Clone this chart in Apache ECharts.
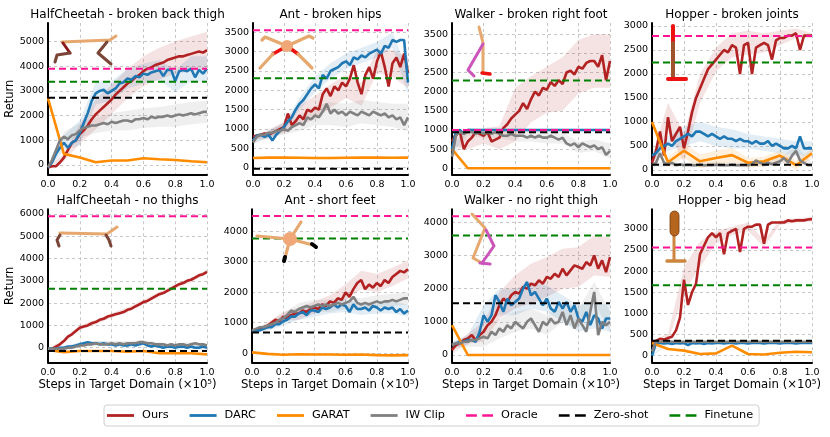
<!DOCTYPE html>
<html><head><meta charset="utf-8">
<script src="https://cdn.jsdelivr.net/npm/echarts@6/dist/echarts.min.js"></script>
<style>html,body{margin:0;padding:0;background:#fff}#c{width:830px;height:437px}</style>
</head><body><div id="c"></div>
<script>
// ---------- DATA ----------
const X41 = [0,0.025,0.05,0.075,0.1,0.125,0.15,0.175,0.2,0.225,0.25,0.275,0.3,0.325,0.35,0.375,0.4,0.425,0.45,0.475,0.5,0.525,0.55,0.575,0.6,0.625,0.65,0.675,0.7,0.725,0.75,0.775,0.8,0.825,0.85,0.875,0.9,0.925,0.95,0.975,1];
const X11 = [0,0.1,0.2,0.3,0.4,0.5,0.6,0.7,0.8,0.9,1];

const titles = ["HalfCheetah - broken back thigh","Ant - broken hips","Walker - broken right foot","Hopper - broken joints","HalfCheetah - no thighs","Ant - short feet","Walker - no right thigh","Hopper - big head"];
const legendNames = ["Ours","DARC","GARAT","IW Clip","Oracle","Zero-shot","Finetune"];
const yLabel = "Return";
const xLabel = "Steps in Target Domain (\u00d710\u2075)";

// y-axis tick steps and visible ranges per panel
const yTickStep = [1000,500,500,500,1000,1000,1000,500];
const yMin = [-385,-177,-162,-94,-655,-296,-220,-156];
const yMax = [5750,3740,3793,3062,6212,4717,4391,3462];

// constant reference levels per panel
const oracleLevels   = [3900,3550,1000,2790,5900,4500,4180,2560];
const zeroShotLevels = [2720,-30,940,110,-150,680,1560,355];
const finetuneLevels = [3370,2310,2290,2240,2650,3760,3600,1665];

// Panel 1: HalfCheetah - broken back thigh
const p1Ours  = [-100,-50,-50,100,300,600,900,1000,1250,1400,1600,1850,2050,2200,2350,2500,2650,2850,3000,3150,3300,3400,3550,3650,3800,3900,3950,4050,4100,4150,4250,4300,4350,4400,4400,4450,4500,4550,4600,4550,4650];
const p1Darc  = [-100,100,450,700,900,700,900,1000,1300,1700,2100,2600,2900,3000,3050,2900,3000,3100,3300,3350,3500,3450,3600,3550,3700,3650,3750,3800,3850,3600,3850,3850,3400,3800,3850,3800,3900,3550,3850,3700,3900];
const p1Iw    = [-100,200,600,1000,1150,1050,1200,1250,1400,1500,1550,1600,1600,1650,1700,1650,1750,1700,1750,1800,1800,1750,1850,1850,1900,1850,1950,1900,1950,1950,2000,1950,2000,2050,2000,2050,2100,2050,2100,2150,2150];
const p1Garat = [2700,450,300,110,180,180,270,230,200,150,110];
// Panel 2: Ant - broken hips
const p2Ours  = [800,830,850,880,850,900,950,1000,1050,1400,1100,1200,1350,1250,1500,1450,1550,1500,1900,2050,1850,2100,2000,2200,2100,2300,2650,2200,1900,2400,2600,2300,2750,3000,2600,2100,2700,2850,2600,2950,2450];
const p2Darc  = [700,830,850,800,850,700,850,950,1050,1200,1300,1500,1650,1750,1900,2050,2150,2050,2400,2300,2500,2550,2600,2700,2750,2650,2850,2800,2900,2850,2950,3000,3050,2950,3150,3100,3300,3250,3300,3300,2200];
const p2Iw    = [650,800,850,850,900,900,950,950,1000,950,1050,1100,1150,1100,1300,1250,1350,1300,1450,1650,1400,1500,1400,1450,1350,1450,1400,1350,1450,1400,1350,1450,1400,1350,1400,1300,1350,1250,1300,1100,1300];
const p2Garat = [250,260,260,255,250,250,255,260,260,255,260];
// Panel 3: Walker - broken right foot
const p3Ours  = [700,900,950,500,700,800,950,900,850,950,700,750,800,1050,1150,1300,1400,1500,1700,1550,1800,2000,1900,2100,2050,2250,2150,2300,2200,2500,2550,2450,2650,2600,2750,2800,2800,2650,2950,2300,2800];
const p3Darc  = [500,950,1000,900,1000,1000,1000,1000,1000,1000,1000,1000,1000,1000,1000,1000,1000,1000,1000,1000,1000,1000,1000,1000,1000,1000,1000,1000,1000,1000,1000,1000,1000,1000,1000,1000,1000,1000,1000,1000,1000];
const p3Iw    = [300,850,950,900,950,950,900,950,900,950,900,950,900,850,850,900,850,850,850,800,850,800,850,800,800,850,800,750,800,650,600,650,550,650,600,550,600,500,550,350,450];
const p3Garat = [500,0,0,0,0,0,0,0,0,0,0];
// Panel 4: Hopper - broken joints
const p4Ours  = [150,400,800,300,1100,600,750,900,450,800,1200,1500,1700,1900,2100,2200,2300,2400,2500,2450,2600,2550,2000,2600,2650,2000,2550,2600,2650,2600,2300,2700,2750,2750,2800,2800,2850,2500,2800,2800,2800];
const p4Darc  = [300,350,450,500,550,500,600,650,700,750,700,800,800,750,700,750,700,650,700,650,650,600,650,600,600,550,600,550,550,600,500,550,500,450,450,500,450,700,450,450,450];
const p4Iw    = [100,150,350,150,120,150,100,120,100,110,100,100,110,100,100,100,110,100,100,100,110,100,100,100,100,120,200,150,120,150,120,150,180,250,150,300,400,200,150,100,100];
const p4Garat = [1000,160,400,180,250,310,150,180,300,100,350];
// Panel 5: HalfCheetah - no thighs
const p5Ours  = [-100,-50,50,150,300,500,600,750,900,950,1000,1100,1150,1250,1300,1400,1450,1500,1550,1600,1700,1750,1850,1950,2050,2100,2200,2300,2400,2450,2550,2650,2750,2850,2900,3000,3050,3150,3250,3300,3400];
const p5Darc  = [-50,-50,-50,0,0,50,50,100,150,200,250,200,200,150,200,150,150,100,150,100,100,150,100,150,200,100,50,100,50,0,50,50,0,50,50,0,50,0,0,50,0];
const p5Iw    = [-50,-50,-50,-50,-50,0,0,50,100,100,150,150,200,150,150,150,200,150,200,150,200,200,200,250,250,200,200,150,150,150,100,150,100,150,150,100,150,200,150,150,100];
const p5Garat = [-100,-200,-150,-150,-150,-180,-150,-250,-250,-250,-300];
// Panel 6: Ant - short feet
const p6Ours  = [700,750,800,850,900,1000,1100,1050,1200,1150,1250,1300,1300,1400,1350,1450,1500,1450,1600,1550,1700,1650,1800,1750,2000,1850,2100,2300,2400,2100,2250,2150,2300,2200,2400,2300,2500,2600,2700,2650,2750];
const p6Darc  = [700,750,750,800,850,850,950,950,1050,1100,1200,1200,1300,1350,1250,1400,1400,1350,1500,1450,1500,1600,1500,1600,1550,1350,1600,1450,1450,1500,1400,1550,1500,1400,1500,1450,1500,1350,1450,1300,1400];
const p6Iw    = [750,800,850,850,900,950,1000,1100,1150,1250,1400,1350,1450,1500,1550,1500,1550,1600,1550,1600,1550,1600,1650,1600,1650,1700,1850,1650,1600,1650,1600,1650,1700,1650,1700,1700,1750,1700,1750,1800,1800];
const p6Garat = [30,-20,-50,-30,-40,-40,-50,-40,-60,-70,-60];
// Panel 7: Walker - no right thigh
const p7Ours  = [150,300,350,450,500,600,450,600,700,900,1000,1200,1500,1700,1600,1800,1900,1850,2050,2000,2150,2100,2250,2150,2350,2300,2450,2350,2600,2400,2550,2700,2650,2600,2800,2700,3000,2600,2850,2500,2950];
const p7Darc  = [300,350,400,400,450,450,400,700,1200,1000,1200,1800,1600,1300,1700,1500,1600,1700,2000,2200,1800,1900,1700,1500,1700,1400,1300,1600,1400,1600,1300,1500,1100,1000,1300,900,1200,1100,800,1100,1100];
const p7Iw    = [300,350,350,400,400,450,450,500,550,500,700,600,800,700,900,800,1000,900,800,1000,1100,900,700,1000,900,1100,950,1000,1300,900,1200,800,1100,900,700,1300,1900,600,1000,900,1000];
const p7Garat = [900,0,0,0,0,0,0,0,0,0,0];
// Panel 8: Hopper - big head
const p8Ours  = [300,350,400,380,420,450,600,900,1800,1200,1500,1700,2400,2600,2800,2900,2800,2900,2400,2900,2950,3000,2450,3000,3050,3050,3100,3100,2650,3100,3150,3150,3150,3150,3200,3180,3200,3200,3200,3220,3230];
const p8Darc  = [0,300,300,290,300,280,300,290,300,250,300,290,300,280,300,290,300,300,290,300,300,290,300,300,290,300,300,300,290,300,300,300,290,300,300,300,290,300,300,300,300];
const p8Iw    = [100,350,330,330,340,330,330,330,330,330,330,330,330,330,330,330,330,330,330,330,330,330,330,330,330,330,330,330,330,330,330,330,330,330,330,330,330,330,330,330,330];
const p8Garat = [300,160,120,40,55,240,40,30,70,95,80];

// shaded spread (half-width) at x = 0, 0.1, ..., 1.0
const p1OursBand = [50,150,400,600,600,600,600,650,650,700,750];
const p1DarcBand = [50,300,500,450,400,400,400,400,450,500,500];
const p1IwBand   = [50,200,300,300,350,400,400,400,450,450,450];
const p2OursBand = [50,100,150,250,300,300,300,300,300,350,400];
const p2DarcBand = [50,100,100,150,200,200,200,200,200,200,300];
const p2IwBand   = [50,100,150,200,250,300,300,300,300,300,350];
const p3OursBand = [100,200,200,300,700,600,600,700,700,700,700];
const p3DarcBand = [100,50,30,30,30,30,30,30,30,30,30];
const p3IwBand   = [100,100,100,100,150,150,150,150,150,150,200];
const p4OursBand = [100,300,300,300,250,250,250,200,150,100,50];
const p4DarcBand = [100,150,200,200,200,200,150,150,150,150,150];
const p4IwBand   = [50,50,50,50,50,50,50,50,80,100,50];
const p4GaratBand= [0,100,150,150,150,150,100,100,100,100,100];
const p5OursBand = [50,80,100,100,100,100,100,100,100,100,100];
const p5DarcBand = [50,80,100,100,100,100,100,100,100,100,100];
const p5IwBand   = [50,80,100,100,100,100,100,100,100,100,100];
const p6OursBand = [50,100,150,200,200,200,250,300,300,300,300];
const p6DarcBand = [50,100,150,200,200,200,200,200,200,200,200];
const p6IwBand   = [50,100,150,200,200,200,200,200,200,200,200];
const p7OursBand = [100,150,300,400,500,600,600,600,600,600,600];
const p7DarcBand = [100,150,300,400,400,400,400,400,400,400,400];
const p7IwBand   = [100,150,300,300,300,300,300,300,300,300,300];
const p8OursBand = [50,100,300,300,150,100,100,80,60,50,50];
const p8DarcBand = [20,20,20,20,20,20,20,20,20,20,20];
const p8IwBand   = [20,20,20,20,20,20,20,20,20,20,20];

// ---------- LAYOUT / STYLE ----------
const FONT = 'DejaVu Sans';
const COLORS = {"Ours":"#b22222","DARC":"#1f77b4","GARAT":"#ff8c00","IW Clip":"#808080","Oracle":"#ff1493","Zero-shot":"#000000","Finetune":"#008000"};
const grids = [
  {left:48, top:23, width:159, height:151.5},
  {left:253, top:23, width:155, height:151.5},
  {left:452, top:23, width:158, height:151.5},
  {left:652, top:23, width:160, height:151.5},
  {left:48, top:209.3, width:159, height:153},
  {left:252, top:209.3, width:156, height:153},
  {left:452, top:209.3, width:158, height:153},
  {left:652, top:209.3, width:160, height:153}
];

const panels = [
  {ours:p1Ours,darc:p1Darc,iw:p1Iw,garat:p1Garat,bands:[[p1OursBand,'Ours'],[p1DarcBand,'DARC'],[p1IwBand,'IW Clip']]},
  {ours:p2Ours,darc:p2Darc,iw:p2Iw,garat:p2Garat,bands:[[p2OursBand,'Ours'],[p2DarcBand,'DARC'],[p2IwBand,'IW Clip']]},
  {ours:p3Ours,darc:p3Darc,iw:p3Iw,garat:p3Garat,bands:[[p3OursBand,'Ours'],[p3DarcBand,'DARC'],[p3IwBand,'IW Clip']]},
  {ours:p4Ours,darc:p4Darc,iw:p4Iw,garat:p4Garat,bands:[[p4OursBand,'Ours'],[p4DarcBand,'DARC'],[p4IwBand,'IW Clip'],[p4GaratBand,'GARAT']]},
  {ours:p5Ours,darc:p5Darc,iw:p5Iw,garat:p5Garat,bands:[[p5OursBand,'Ours'],[p5DarcBand,'DARC'],[p5IwBand,'IW Clip']]},
  {ours:p6Ours,darc:p6Darc,iw:p6Iw,garat:p6Garat,bands:[[p6OursBand,'Ours'],[p6DarcBand,'DARC'],[p6IwBand,'IW Clip']]},
  {ours:p7Ours,darc:p7Darc,iw:p7Iw,garat:p7Garat,bands:[[p7OursBand,'Ours'],[p7DarcBand,'DARC'],[p7IwBand,'IW Clip']]},
  {ours:p8Ours,darc:p8Darc,iw:p8Iw,garat:p8Garat,bands:[[p8OursBand,'Ours'],[p8DarcBand,'DARC'],[p8IwBand,'IW Clip']]}
];

function xsFor(ys){ return ys.length === 41 ? X41 : X11; }
function pairs(ys){ const xs = xsFor(ys); return ys.map((y,i)=>[xs[i], y]); }

const xAxes = [], yAxes = [], series = [], graphics = [];
const gridLineStyle = {type:[3,3], color:'#b9b9b9', width:0.8};

grids.forEach((g,k)=>{
  const bottomRow = k >= 4;
  xAxes.push({
    type:'value', gridIndex:k, min:0, max:1, interval:0.2,
    axisLine:{show:true, onZero:false, lineStyle:{color:'#000', width:2}},
    axisTick:{show:false},
    axisLabel:{formatter:v=>v.toFixed(1), fontSize:9.5, fontFamily:FONT, color:'#000', margin:5, showMinLabel:true, showMaxLabel:true},
    splitLine:{show:true, showMinLine:false, lineStyle:gridLineStyle},
    name: bottomRow ? xLabel : '', nameLocation:'middle', nameGap:17,
    nameTextStyle:{fontSize:11.7, fontFamily:FONT, color:'#000'}
  });
  yAxes.push({
    type:'value', gridIndex:k, min:yMin[k], max:yMax[k],
    minInterval:yTickStep[k], maxInterval:yTickStep[k], splitNumber:6,
    axisLine:{show:true, onZero:false, lineStyle:{color:'#000', width:2}},
    axisTick:{show:false},
    axisLabel:{formatter:v=>String(Math.round(v)), fontSize:9.5, fontFamily:FONT, color:'#000', margin:4, showMinLabel:false, showMaxLabel:false},
    splitLine:{show:true, showMinLine:false, showMaxLine:false, lineStyle:gridLineStyle},
    name: (k===0||k===4) ? yLabel : '', nameLocation:'middle', nameGap:25, nameRotate:90,
    nameTextStyle:{fontSize:11.5, fontFamily:FONT, color:'#000'}
  });
  graphics.push({type:'text', x:g.left + g.width/2, y:g.top - 8, silent:true,
    style:{text:titles[k], fill:'#000', fontSize:12, fontFamily:FONT, align:'center', verticalAlign:'middle'}});

  const P = panels[k];
  P.bands.forEach(([spread, nm])=>{
    const src = nm==='Ours'?P.ours:nm==='DARC'?P.darc:nm==='IW Clip'?P.iw:P.garat;
    const step = (src.length-1)/10;
    const pts = spread.map((s,i)=>[X11[i], src[i*step], s]);
    series.push({
      type:'custom', name:nm+' band', xAxisIndex:k, yAxisIndex:k, clip:true, silent:true, z:1,
      data:[[0,0]],
      renderItem:(params, api)=>{
        const up = pts.map(p=>api.coord([p[0], p[1]+p[2]]));
        const lo = pts.map(p=>api.coord([p[0], p[1]-p[2]])).reverse();
        return {type:'polygon', shape:{points:up.concat(lo)}, style:{fill:COLORS[nm], opacity:0.13}};
      }
    });
  });
  const mainLine = (nm, ys, w, z) => ({
    type:'line', name:nm, xAxisIndex:k, yAxisIndex:k, data:pairs(ys), symbol:'none', showSymbol:false,
    lineStyle:{color:COLORS[nm], width:w}, itemStyle:{color:COLORS[nm]}, z:z, clip:true, silent:true
  });
  series.push(mainLine('Ours', P.ours, 2.6, 3));
  series.push(mainLine('DARC', P.darc, 2.6, 3));
  series.push(mainLine('GARAT', P.garat, 2.6, 3));
  series.push(mainLine('IW Clip', P.iw, 2.6, 3));
  const hline = (nm, v) => ({
    type:'line', name:nm, xAxisIndex:k, yAxisIndex:k, data:[[0,v],[1,v]], symbol:'none', showSymbol:false,
    lineStyle:{color:COLORS[nm], width:2, type:[7,4]}, itemStyle:{color:COLORS[nm]}, z:4, silent:true
  });
  series.push(hline('Oracle', oracleLevels[k]));
  series.push(hline('Zero-shot', zeroShotLevels[k]));
  series.push(hline('Finetune', finetuneLevels[k]));
});

// ---------- DECORATION: small robot sketches (pixel positions) ----------
const TAN = '#e6a86e', BROWN = '#7a4536', DARKRED = '#8b1a1a', RED = '#ee1111', PINK = '#cc55bb';
function seg(points, color, w){ return {type:'polyline', z:5, silent:true, shape:{points}, style:{stroke:color, lineWidth:w, fill:null, lineCap:'round', lineJoin:'round'}}; }
function ball(cx, cy, r, color){ return {type:'circle', z:6, silent:true, shape:{cx, cy, r}, style:{fill:color}}; }
graphics.push(
  // HalfCheetah - broken back thigh
  seg([[62,42],[110,40],[116,36]], TAN, 3),
  seg([[63,43],[70,53]], DARKRED, 3),
  seg([[70,53],[57,55],[55,62]], BROWN, 3),
  seg([[107,42],[98,53],[111,64]], BROWN, 3),
  // Ant - broken hips
  seg([[287,46],[265,37],[262,40]], TAN, 3.2),
  seg([[287,46],[309,36],[313,38]], TAN, 3.2),
  seg([[287,46],[273,54]], RED, 3.5), seg([[273,54],[260,68]], TAN, 3.2),
  seg([[287,46],[298,54]], RED, 3.5), seg([[298,54],[312,68]], TAN, 3.2),
  ball(287,46,6,'#f0a878'),
  // Walker - broken right foot
  seg([[479,27],[483,43],[483,72]], TAN, 3),
  seg([[483,44],[468,70],[474,76]], PINK, 3),
  seg([[482,73],[490,74]], RED, 3.5),
  // Hopper - broken joints
  seg([[673,26],[673,43]], RED, 4),
  seg([[673,43],[673,77]], '#a0522d', 4),
  seg([[668,79],[686,79]], RED, 4),
  // HalfCheetah - no thighs
  seg([[60,233],[107,234],[117,227]], TAN, 3),
  seg([[60,235],[57,240],[59,246]], BROWN, 3),
  seg([[106,235],[109,240],[111,246]], BROWN, 3),
  // Ant - short feet
  seg([[290,239],[257,236]], TAN, 3.2),
  seg([[290,239],[301,222]], TAN, 3.2),
  seg([[290,239],[285,258]], TAN, 3.2), seg([[285,257],[284,261]], '#000', 4),
  seg([[290,239],[313,245]], TAN, 3.2), seg([[312,244],[316,247]], '#000', 4),
  ball(290,239,7,'#f0a878'),
  // Walker - no right thigh
  seg([[472,214],[485,228],[473,258],[482,263]], TAN, 3),
  seg([[486,230],[494,246],[482,263]], PINK, 3),
  seg([[480,263],[490,264]], PINK, 3.2),
  // Hopper - big head
  seg([[674,236],[674,260]], '#cd853f', 3),
  seg([[667,261],[685,261]], '#cd853f', 3.5),
  {type:'rect', z:6, silent:true, shape:{x:670, y:211, width:9, height:25, r:4.5}, style:{fill:'#b5651d', stroke:'#7a3b10', lineWidth:0.8}}
);

const dash2 = 'path://M0,0H10V2.4H0Z M15,0H25V2.4H15Z';
const solid = 'path://M0,0H27V2.8H0Z';
const legendData = legendNames.map(n => ({name:n, icon: (n==='Oracle'||n==='Zero-shot'||n==='Finetune') ? dash2 : solid, itemStyle:{color:COLORS[n]}}));

const chart = echarts.init(document.getElementById('c'), null, {renderer:'canvas'});
chart.setOption({
  animation:false,
  backgroundColor:'#fff',
  textStyle:{fontFamily:FONT},
  grid: grids.map(g=>Object.assign({containLabel:false}, g)),
  xAxis:xAxes, yAxis:yAxes,
  legend:{
    data:legendData, left:104, top:405, itemWidth:27, itemHeight:12, itemGap:21,
    textStyle:{fontSize:11.3, fontFamily:FONT, color:'#000', padding:[0,0,0,3]},
    borderColor:'#d0d0d0', borderWidth:1, borderRadius:3, padding:[5,6,5,3]
  },
  graphic:graphics,
  series:series
});
</script></body></html>
